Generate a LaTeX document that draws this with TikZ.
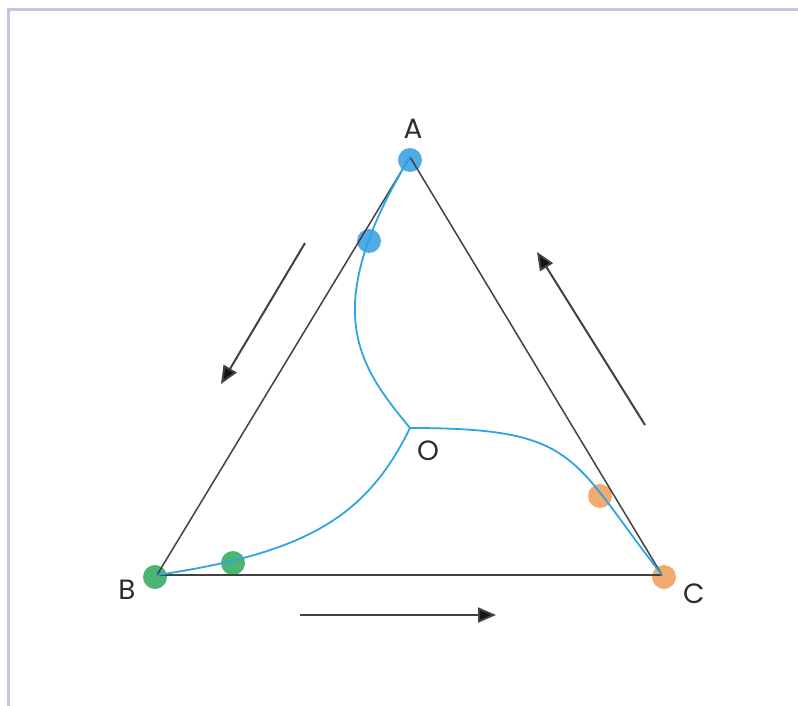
\documentclass[tikz,border=0pt]{standalone}
\usepackage{fontspec}
\setmainfont{Poppins}
\usetikzlibrary{arrows.meta}
\definecolor{framec}{RGB}{200,196,228}
\definecolor{curvec}{RGB}{45,165,225}
\definecolor{edgec}{RGB}{65,65,65}
\definecolor{headc}{RGB}{20,20,20}
\definecolor{dotblue}{RGB}{80,172,228}
\definecolor{dotgreen}{RGB}{76,180,116}
\definecolor{dotorange}{RGB}{242,170,112}
\definecolor{labelc}{RGB}{45,45,45}
\begin{document}
\begin{tikzpicture}[x=1bp,y=-1bp,
  dot/.style={circle,inner sep=0pt,minimum size=24bp,draw=none},
  side/.style={draw=edgec,line width=1.5bp},
  path/.style={draw=curvec,line width=1.8bp},
  motion/.style={draw=edgec,line width=2bp,-{Triangle[length=18bp,width=15bp,fill=headc]}},
  lbl/.style={text=labelc,font=\fontsize{28}{30}\selectfont,inner sep=0pt}]
\useasboundingbox (0,0) rectangle (798,706);
\draw[framec,line width=3bp] (8,706) -- (8,9.5) -- (798,9.5);
% vertices
\coordinate (A) at (410,157);
\coordinate (B) at (157,575);
\coordinate (C) at (662,575);
\coordinate (O) at (410,428);
% dots
\node[dot,fill=dotblue]   (dA)  at (410,160) {};
\node[dot,fill=dotblue]   (dA2) at (369,241) {};
\node[dot,fill=dotgreen]  (dB)  at (155,577) {};
\node[dot,fill=dotgreen]  (dB2) at (233,563) {};
\node[dot,fill=dotorange] (dC2) at (600,496) {};
\node[dot,fill=dotorange] (dC)  at (664,577) {};
% triangle
\draw[side] (A) -- (B);
\draw[side] (A) -- (C);
\draw[side,line width=2.2bp] (B) -- (C);
% pursuit curves
\draw[path] (A) .. controls +(-93,154) and +(-51,-62) .. (O);
\draw[path] (O) .. controls +(170,0) and +(-92.5,-118) .. (C);
\draw[path] (O) .. controls +(-44,90) and +(148,-22) .. (B);
% labels
\node[lbl] (lA) at (413,129) {A};
\node[lbl] (lB) at (127,590) {B};
\node[lbl] (lC) at (694,594) {C};
\node[lbl] (lO) at (428,451) {O};
% motion arrows
\coordinate (m1s) at (305,243);
\coordinate (m1e) at (221,384);
\coordinate (m2s) at (645,425);
\coordinate (m2e) at (537,252);
\coordinate (m3s) at (300,615);
\coordinate (m3e) at (496,615);
\draw[motion] (m1s) -- (m1e);
\draw[motion] (m2s) -- (m2e);
\draw[motion] (m3s) -- (m3e);
\end{tikzpicture}
\end{document}
